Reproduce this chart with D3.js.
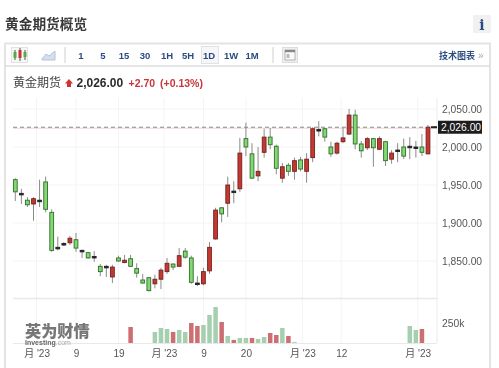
<!DOCTYPE html>
<html><head><meta charset="utf-8">
<script src="https://cdn.jsdelivr.net/npm/d3@7"></script>
<style>
html,body{margin:0;padding:0;background:#fff;overflow:hidden}
svg{display:block;filter:blur(0.35px)}
text{font-family:"Liberation Sans","Noto Sans CJK SC",sans-serif}
</style></head><body>
<svg id="c" width="499" height="368"></svg>
<script>
const opens =[1957,1939,1930,1925,1930,1954,1914,1868,1873,1874,1878,1864,1861,1856,1843,1843,1829,1854,1848,1853,1840,1825,1828,1820,1826,1836,1846,1843,1863,1854,1821,1820,1837,1879,1920,1926,1942,1945,2011,1991,1962,1993,2013,2001,1959,1976,1968,1983,1968,1986,2023,2024,2000,1992,2007,2017,2042,2004,1999,2011,1997,2007,1984,1996,2000,2001,2000,2000,1991];
const closes=[1941,1937,1924,1932,1928,1918,1864,1866,1871,1880,1867,1862,1854,1854,1836,1841,1842,1850,1851,1843,1834,1821,1811,1826,1838,1847,1842,1857,1855,1822,1819,1836,1868,1917,1912,1950,1940,1992,2000,1959,1968,2013,2003,1972,1974,1968,1982,1971,1984,2024,2021,2013,1991,2005,2012,2042,2004,1995,2011,1999,2011,1982,1992,1994,1988,1999,1998,1993,2026];
const highs =[1959,1945,1934,1934,1957,1961,1918,1882,1875,1883,1887,1865,1862,1863,1846,1845,1845,1857,1858,1858,1847,1833,1829,1832,1841,1854,1847,1867,1867,1857,1830,1841,1875,1920,1921,1961,1955,2012,2032,2005,2000,2024,2025,2003,1979,1979,1986,1987,1992,2026,2034,2025,2007,2007,2026,2050,2049,2008,2013,2012,2014,2008,1996,2005,2011,2013,2008,2017,2029];
const lows  =[1929,1925,1921,1903,1921,1914,1862,1864,1870,1871,1862,1854,1853,1849,1830,1829,1821,1849,1847,1842,1828,1820,1810,1814,1813,1833,1838,1843,1853,1820,1817,1818,1833,1878,1901,1908,1926,1941,1988,1958,1955,1986,1997,1964,1953,1962,1957,1968,1953,1980,2014,2007,1987,1990,2005,2016,1997,1986,1996,1974,1996,1975,1978,1980,1984,1984,1986,1988,1990];
const volumeDays  =[19,23,24,25,26,27,28,29,30,31,32,33,34,35,36,37,38,39,40,41,42,43,44,45,46,65,66,67];
const volumeValues=[200,138,188,175,138,163,138,250,213,225,350,450,263,88,38,63,63,63,50,75,125,100,188,88,12,213,163,175];
const volumeUp    =[1,0,0,0,1,0,0,1,1,0,0,0,1,0,1,0,0,1,0,0,1,1,0,1,0,0,0,1];
const priceTicks=[1850,1900,1950,2000,2050];
const volumeTicks=[250];
const dateTickPos=[3.5,10,17,24.5,31,38,47.3,53.7,66.3];
const dateTickLabels=["月 '23","9","19","月 '23","9","20","月 '23","12","月 '23"];
const periods=["1","5","15","30","1H","5H","1D","1W","1M"];
const periodX=[81,103,124,145,167,188,209,231,252];
const lastPrice=2026;

const svg=d3.select("#c");
const x=d3.scaleLinear().domain([0,68]).range([15.3,428]);
const y=d3.scaleLinear().domain([1850,2050]).range([261,109]);
const v=d3.scaleLinear().domain([0,250]).range([343,323]);
const L=13,R=437;
const BLUE="#2b4c80";

// panel
svg.append("rect").attr("x",5).attr("y",43.5).attr("width",485).attr("height",340).attr("fill","#fff").attr("stroke","#e4e4e4").attr("stroke-width",2);
svg.append("line").attr("x1",5).attr("x2",490).attr("y1",66).attr("y2",66).attr("stroke","#dcdcdc").attr("stroke-width",1.5);
svg.append("text").attr("x",5).attr("y",29).attr("font-size",13.7).attr("font-weight",700).attr("fill","#3a3a3a").text("黄金期货概览");
svg.append("rect").attr("x",473).attr("y",15).attr("width",18).attr("height",18).attr("fill","#f1f1f1");
svg.append("text").attr("x",482).attr("y",30).attr("text-anchor","middle").attr("font-size",14).attr("font-weight",700).attr("fill",BLUE).style("font-family","'DejaVu Serif',serif").text("i");

// toolbar
const tb=svg.append("g");
tb.append("rect").attr("x",11.5).attr("y",47.5).attr("width",16).attr("height",15).attr("fill","#f6f6f6").attr("stroke","#e2e2e2");
[[15,"#5aa84a",50,60,52,58],[20,"#c8352e",48,61,50,58],[25,"#5aa84a",50,60,52,57]].forEach(d=>{
  tb.append("line").attr("x1",d[0]).attr("x2",d[0]).attr("y1",d[2]).attr("y2",d[3]).attr("stroke","#555");
  tb.append("rect").attr("x",d[0]-1.5).attr("y",d[4]).attr("width",3).attr("height",d[5]-d[4]).attr("fill",d[1]);
});
tb.append("path").attr("d","M42 59 L46 54 L49 56 L55 51 L55 60 L42 60 Z").attr("fill","#d3dfee").attr("stroke","#b4c4d8");
[65,273].forEach(px=>tb.append("line").attr("x1",px).attr("x2",px).attr("y1",47).attr("y2",63).attr("stroke","#dfdfdf").attr("stroke-width",1.5));
tb.append("rect").attr("x",201.5).attr("y",46.5).attr("width",17).attr("height",17).attr("fill","#f5f6f8").attr("stroke","#e2e2e2");
tb.selectAll("text.p").data(periods).join("text").attr("class","p")
  .attr("x",(d,i)=>periodX[i]).attr("y",59).attr("text-anchor","middle")
  .attr("font-size",9.5).attr("font-weight",700).attr("fill",BLUE).text(d=>d);
tb.append("rect").attr("x",282.5).attr("y",47.5).attr("width",15).attr("height",15).attr("fill","#efefef").attr("stroke","#dddddd");
tb.append("rect").attr("x",285).attr("y",50).attr("width",10).attr("height",10).attr("fill","#fafafa").attr("stroke","#999").attr("stroke-width",.7);
tb.append("rect").attr("x",285).attr("y",50).attr("width",10).attr("height",2.2).attr("fill","#888");
tb.append("rect").attr("x",286.5).attr("y",54).attr("width",3).attr("height",4).attr("fill","#bbb");
tb.append("text").attr("x",439).attr("y",59).attr("font-size",9).attr("font-weight",700).attr("fill",BLUE).text("技术图表");
tb.append("text").attr("x",478).attr("y",59).attr("font-size",10).attr("fill","#9aa7bd").text("»");

// quote header
svg.append("text").attr("x",13).attr("y",87).attr("font-size",12).attr("fill","#444").text("黄金期货");
svg.append("path").attr("d","M69 79 L73 83.5 L71 83.5 L71 87 L67 87 L67 83.5 L65 83.5 Z").attr("fill","#d0342c");
svg.append("text").attr("x",76.5).attr("y",87).attr("font-size",12).attr("font-weight",700).attr("fill","#2b2b2b").text("2,026.00");
svg.append("text").attr("x",128.5).attr("y",87).attr("font-size",10.5).attr("font-weight",700).attr("fill","#c8363a").text("+2.70");
svg.append("text").attr("x",160).attr("y",87).attr("font-size",10.5).attr("font-weight",700).attr("fill","#c8363a").text("(+0.13%)");

// grid
const grid=svg.append("g").attr("stroke","#f4f4f4");
priceTicks.forEach(t=>grid.append("line").attr("x1",L).attr("x2",R).attr("y1",y(t)).attr("y2",y(t)));
dateTickPos.forEach(p=>grid.append("line").attr("x1",x(p)).attr("x2",x(p)).attr("y1",98).attr("y2",343));
svg.append("line").attr("x1",R).attr("x2",R).attr("y1",98).attr("y2",343).attr("stroke","#ececec");
svg.append("line").attr("x1",L).attr("x2",R).attr("y1",298.5).attr("y2",298.5).attr("stroke","#e8e8e8").attr("stroke-width",1.5);
svg.append("line").attr("x1",L).attr("x2",R).attr("y1",343.5).attr("y2",343.5).attr("stroke","#e9e9e9");

// watermark
svg.append("text").attr("x",25).attr("y",337).attr("font-size",16.2).attr("font-weight",900).attr("fill","#777").text("英为财情");
svg.append("text").attr("x",25).attr("y",345).attr("font-size",7).attr("font-weight",700).attr("fill","#666").text("Investing").append("tspan").attr("font-weight",400).attr("fill","#aaa").text(".com");

// volume
const vols=volumeDays.map((d,i)=>({d,val:volumeValues[i],up:volumeUp[i]}));
svg.append("g").selectAll("rect").data(vols).join("rect")
  .attr("x",d=>x(d.d)-2.25).attr("width",4.5)
  .attr("y",d=>v(d.val)).attr("height",d=>v(0)-v(d.val))
  .attr("fill",d=>d.up?"#cc6e72":"#a5cfae");

// last price line
svg.append("line").attr("x1",L).attr("x2",R).attr("y1",y(lastPrice)+1).attr("y2",y(lastPrice)+1).attr("stroke","#f3d5d5");
svg.append("line").attr("x1",L).attr("x2",R).attr("y1",y(lastPrice)).attr("y2",y(lastPrice)).attr("stroke","#8a8a8a").attr("stroke-dasharray","4 3");

// candles
const candles=opens.map((o,i)=>({i,o,c:closes[i],h:highs[i],l:lows[i]}));
const g=svg.append("g");
g.selectAll("line").data(candles).join("line")
  .attr("x1",d=>x(d.i)).attr("x2",d=>x(d.i))
  .attr("y1",d=>y(d.h)).attr("y2",d=>y(d.l))
  .attr("stroke","#8b8b8b").attr("stroke-width",1);
const kind=d=>Math.abs(d.o-d.c)<=2?"doji":(d.c>d.o?"up":"down");
g.selectAll("rect").data(candles).join("rect")
  .attr("x",d=>x(d.i)-1.9).attr("width",3.8)
  .attr("y",d=>y(Math.max(d.o,d.c))).attr("height",d=>Math.abs(y(d.o)-y(d.c)))
  .attr("fill",d=>({doji:"#222",up:"#c8372f",down:"#84d873"})[kind(d)])
  .attr("stroke",d=>({doji:"#222",up:"#6e2320",down:"#2f6d2a"})[kind(d)])
  .attr("stroke-width",.9);
svg.append("line").attr("x1",431).attr("x2",437).attr("y1",y(lastPrice)).attr("y2",y(lastPrice)).attr("stroke","#222").attr("stroke-width",2);

// axes
const styleAxis=s=>{s.select(".domain").remove();s.selectAll(".tick line").remove();
  s.selectAll("text").attr("fill","#555").style("font-family",'"Liberation Sans","Noto Sans CJK SC",sans-serif');};
svg.append("g").attr("transform",`translate(${R+5},0)`)
  .call(d3.axisRight(y).tickValues(priceTicks).tickFormat(d3.format(",.2f")).tickSize(0).tickPadding(0))
  .call(styleAxis).selectAll("text").attr("font-size",10.3);
svg.append("g").attr("transform",`translate(${R+5},0)`)
  .call(d3.axisRight(v).tickValues(volumeTicks).tickFormat(d=>d+"k").tickSize(0).tickPadding(0))
  .call(styleAxis).selectAll("text").attr("font-size",10.3);
svg.append("g").attr("transform","translate(0,350)")
  .call(d3.axisBottom(x).tickValues(dateTickPos).tickFormat((d,i)=>dateTickLabels[i]).tickSize(0).tickPadding(0))
  .call(styleAxis).selectAll("text").attr("font-size",10);

// last price tag
svg.append("rect").attr("x",438).attr("y",y(lastPrice)-6.5).attr("width",44).attr("height",13).attr("fill","#1c1c1c");
svg.append("text").attr("x",441).attr("y",y(lastPrice)+3.7).attr("font-size",10.3).attr("fill","#fff").text(d3.format(",.2f")(lastPrice));
</script>
</body></html>
